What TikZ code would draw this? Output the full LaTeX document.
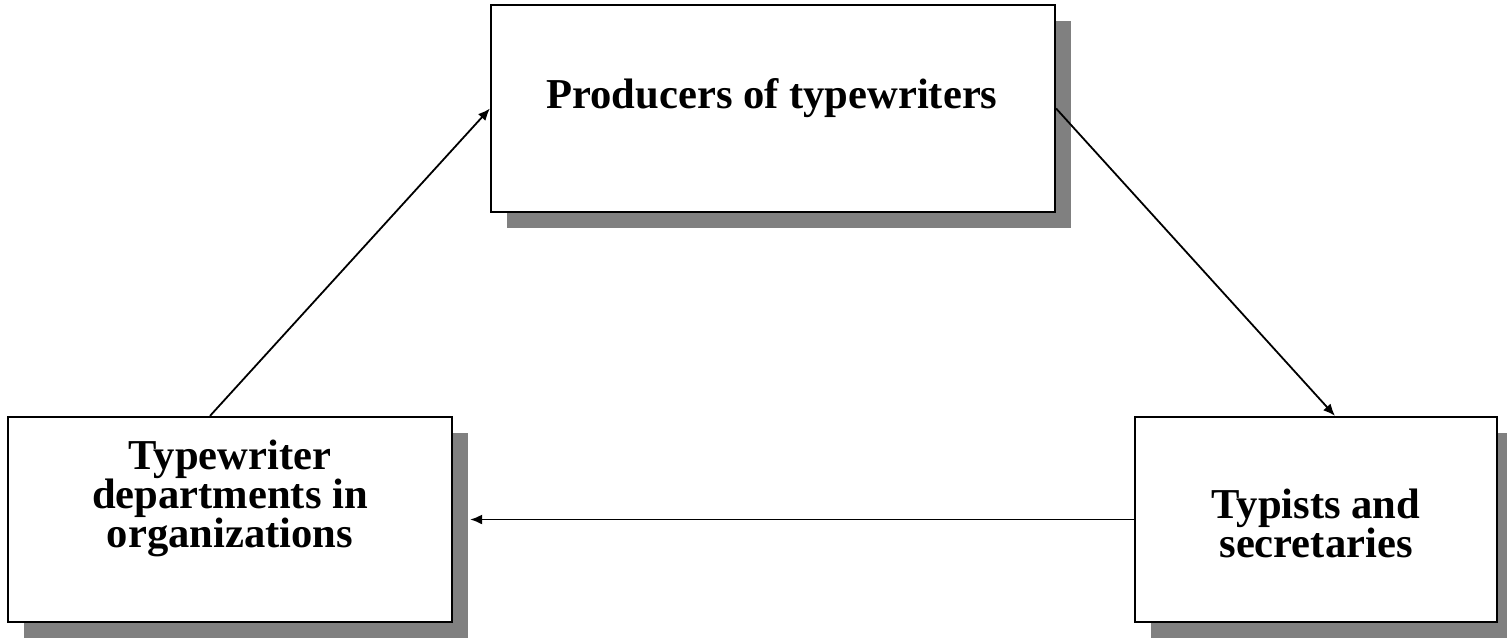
\documentclass[tikz,border=0pt]{standalone}
\usepackage{fontspec}
\setmainfont{Liberation Serif}
\usetikzlibrary{arrows.meta,shadows,calc}

\tikzset{
  box/.style={draw, line width=1.1pt, fill=white, rectangle, inner sep=0pt,
    drop shadow={shadow xshift=8pt, shadow yshift=-8pt, fill=black!50, opacity=1}},
  boxtext/.style={align=center, inner sep=0pt,
    font=\bfseries\fontsize{21.3}{19.5}\selectfont},
  flow/.style={line width=0.9pt, -{Latex[length=6pt,width=5pt]}}
}

\begin{document}
\begin{tikzpicture}[x=0.5pt,y=-0.5pt]
    \useasboundingbox (0,0) rectangle (1507,638);

    % Cajas
    \node[box, minimum width=282pt, minimum height=103.5pt] (prod) at (773,108.5) {};
    \node[box, minimum width=222pt, minimum height=102.5pt] (dept) at (230,519.5) {};
    \node[box, minimum width=181pt, minimum height=102.5pt] (typ) at (1316,519.5) {};

    \node[boxtext, anchor=base] (prodtxt) at (772,108) {Producers of typewriters};
    \node[boxtext, anchor=base] (depttxt) at (230,547) {Typewriter\\departments in\\organizations};
    \node[boxtext, anchor=base] (typtxt) at (1316,557) {Typists and\\secretaries};

    % Flechas
    \coordinate (deptout) at ($(dept.north)+(-20,0)$);
    \coordinate (typin) at ($(typ.north)+(19,0)$);
    \coordinate (deptin) at ($(dept.east)+(17,0)$);

    \draw[flow] (deptout) -- (prod.west);
    \draw[flow] (prod.east) -- (typin);
    \draw[flow] (typ.west) -- (deptin);
\end{tikzpicture}
\end{document}
